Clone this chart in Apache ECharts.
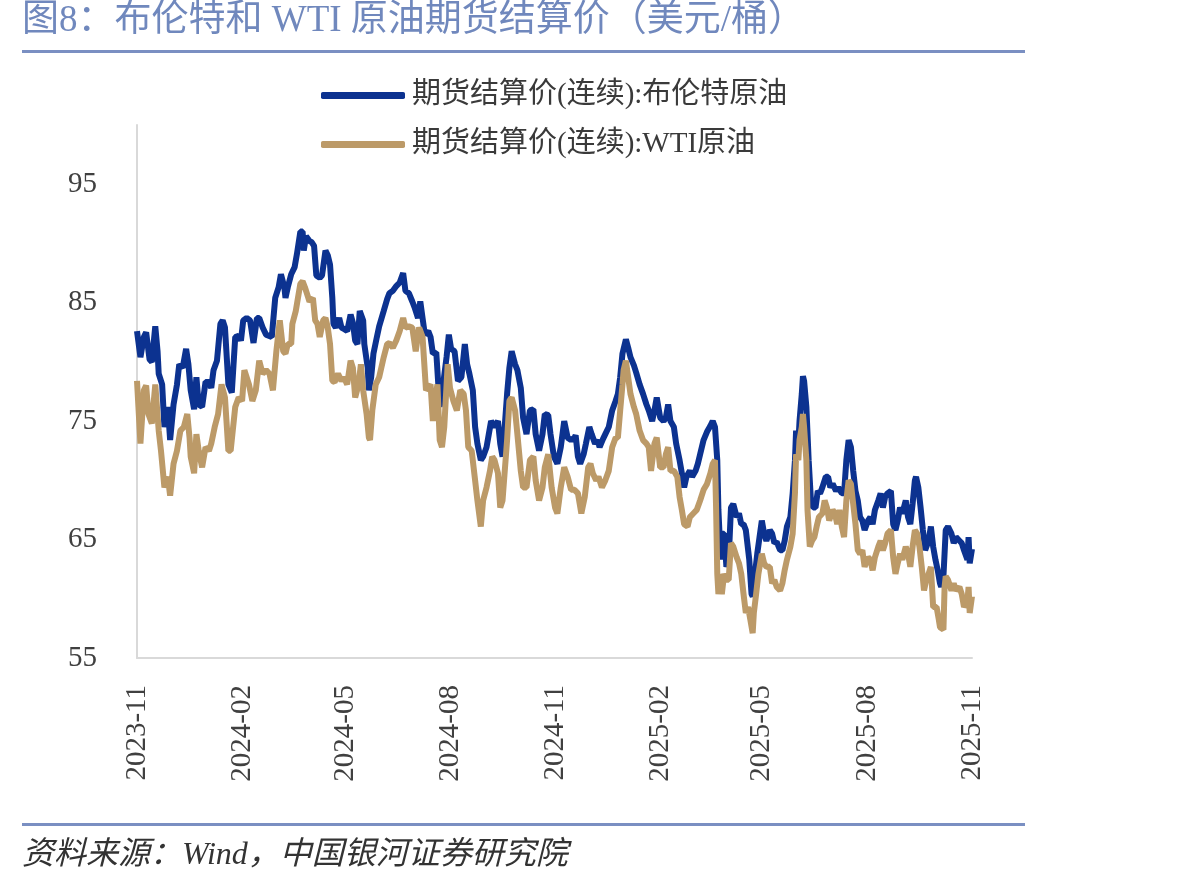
<!DOCTYPE html>
<html><head><meta charset="utf-8">
<script src="https://cdn.jsdelivr.net/npm/echarts@6/dist/echarts.min.js"></script>
<style>html,body{margin:0;padding:0;background:#fff}#c{width:1180px;height:890px}</style>
</head><body><div id="c"></div>
<script>
const titleText = '图8：布伦特和 WTI 原油期货结算价（美元/桶）';
const sourceText = '资料来源：Wind，中国银河证券研究院';
const seriesNames = ['期货结算价(连续):布伦特原油', '期货结算价(连续):WTI原油'];
const xTickDates = ['2023-11-14','2024-02-14','2024-05-14','2024-08-14','2024-11-14','2025-02-14','2025-05-14','2025-08-14','2025-11-14'];
const yTicks = [55, 65, 75, 85, 95];
const yMax = 100;

const brentDates = ['2023-11-14','2023-11-17','2023-11-20','2023-11-22','2023-11-25','2023-11-27','2023-11-30','2023-12-02','2023-12-03','2023-12-06','2023-12-08','2023-12-11','2023-12-13','2023-12-16','2023-12-19','2023-12-21','2023-12-24','2023-12-27','2023-12-29','2023-12-31',
'2024-01-03','2024-01-05','2024-01-07','2024-01-10','2024-01-13','2024-01-16','2024-01-18','2024-01-20','2024-01-23','2024-01-26','2024-01-28','2024-01-30','2024-02-02','2024-02-05','2024-02-08','2024-02-11','2024-02-13','2024-02-15','2024-02-18','2024-02-21','2024-02-24','2024-02-27','2024-02-29',
'2024-03-03','2024-03-06','2024-03-11','2024-03-14','2024-03-17','2024-03-19','2024-03-22','2024-03-23','2024-03-25','2024-03-28','2024-03-31','2024-04-02','2024-04-05','2024-04-07','2024-04-08','2024-04-10','2024-04-13','2024-04-15','2024-04-17','2024-04-19','2024-04-22','2024-04-24','2024-04-27','2024-04-29',
'2024-05-01','2024-05-03','2024-05-04','2024-05-06','2024-05-09','2024-05-11','2024-05-13','2024-05-16','2024-05-19','2024-05-21','2024-05-23','2024-05-25','2024-05-27','2024-05-30','2024-05-31','2024-06-03','2024-06-04','2024-06-06','2024-06-08','2024-06-11','2024-06-13','2024-06-17','2024-06-20','2024-06-22','2024-06-25','2024-06-28',
'2024-07-01','2024-07-04','2024-07-06','2024-07-09','2024-07-12','2024-07-14','2024-07-17','2024-07-19','2024-07-21','2024-07-23','2024-07-26','2024-07-28','2024-07-30','2024-08-02','2024-08-05','2024-08-08','2024-08-11','2024-08-13','2024-08-15','2024-08-18','2024-08-21','2024-08-24','2024-08-27','2024-08-29','2024-08-31',
'2024-09-03','2024-09-05','2024-09-07','2024-09-10','2024-09-12','2024-09-15','2024-09-17','2024-09-19','2024-09-22','2024-09-25','2024-09-27','2024-09-29','2024-10-03','2024-10-05','2024-10-07','2024-10-10','2024-10-12','2024-10-15','2024-10-17','2024-10-20','2024-10-23','2024-10-26','2024-10-28','2024-10-31',
'2024-11-03','2024-11-05','2024-11-08','2024-11-10','2024-11-13','2024-11-16','2024-11-19','2024-11-22','2024-11-25','2024-11-28','2024-12-01','2024-12-02','2024-12-04','2024-12-06','2024-12-09','2024-12-11','2024-12-14','2024-12-16','2024-12-19','2024-12-21','2024-12-23','2024-12-26','2024-12-28','2024-12-31',
'2025-01-03','2025-01-06','2025-01-08','2025-01-10','2025-01-12','2025-01-14','2025-01-15','2025-01-17','2025-01-19','2025-01-22','2025-01-24','2025-01-27','2025-01-30','2025-02-02','2025-02-04','2025-02-07','2025-02-09','2025-02-11','2025-02-14','2025-02-17','2025-02-19','2025-02-21','2025-02-23','2025-02-26','2025-02-28',
'2025-03-03','2025-03-05','2025-03-07','2025-03-09','2025-03-12','2025-03-14','2025-03-17','2025-03-19','2025-03-21','2025-03-24','2025-03-27','2025-03-30','2025-04-01','2025-04-03','2025-04-05','2025-04-06','2025-04-08','2025-04-09','2025-04-11','2025-04-13','2025-04-15','2025-04-17','2025-04-19','2025-04-22','2025-04-24','2025-04-26','2025-04-28','2025-04-30',
'2025-05-03','2025-05-05','2025-05-06','2025-05-08','2025-05-10','2025-05-12','2025-05-14','2025-05-16','2025-05-18','2025-05-21','2025-05-23','2025-05-25','2025-05-27','2025-05-30','2025-06-01','2025-06-03','2025-06-05','2025-06-08','2025-06-10','2025-06-12','2025-06-13','2025-06-15','2025-06-16','2025-06-18','2025-06-19','2025-06-20','2025-06-22','2025-06-24','2025-06-26','2025-06-28','2025-06-30',
'2025-07-02','2025-07-04','2025-07-06','2025-07-09','2025-07-11','2025-07-13','2025-07-15','2025-07-18','2025-07-20','2025-07-23','2025-07-25','2025-07-27','2025-07-29','2025-07-30','2025-07-31','2025-08-02','2025-08-04','2025-08-06','2025-08-08','2025-08-10','2025-08-12','2025-08-15','2025-08-17','2025-08-19','2025-08-21','2025-08-24','2025-08-26','2025-08-28','2025-08-30',
'2025-09-01','2025-09-04','2025-09-06','2025-09-08','2025-09-10','2025-09-12','2025-09-14','2025-09-17','2025-09-19','2025-09-21','2025-09-23','2025-09-25','2025-09-26','2025-09-28','2025-09-30','2025-10-02','2025-10-04','2025-10-07','2025-10-09','2025-10-11','2025-10-13','2025-10-15','2025-10-17','2025-10-18','2025-10-20','2025-10-22','2025-10-24','2025-10-27','2025-10-29','2025-10-31',
'2025-11-03','2025-11-05','2025-11-07','2025-11-10','2025-11-11','2025-11-12','2025-11-14'];
const brentValues = [82.6,80.4,82.1,82.5,80.2,80.0,83.0,80.9,79.0,78.1,74.5,76.2,73.4,76.4,78.1,79.8,79.5,81.1,79.8,77.6,
76.0,78.7,76.4,76.2,78.3,78.3,77.8,79.3,80.1,83.2,83.5,82.9,78.1,77.4,82.1,82.2,81.8,83.5,83.7,83.5,81.6,83.7,83.7,
82.9,82.3,82.1,85.4,86.3,87.4,86.3,85.4,86.3,87.4,88.0,89.1,91.0,91.0,89.4,90.6,90.2,90.1,89.8,87.3,87.1,87.3,89.4,89.0,
88.2,85.4,83.2,82.9,83.7,82.9,82.8,82.6,84.0,83.3,81.8,81.5,84.3,83.5,81.5,79.5,77.6,78.7,80.7,82.1,83.0,84.3,85.3,85.8,86.0,86.4,
86.7,87.5,86.0,85.8,85.1,84.6,83.7,85.1,83.7,82.3,82.6,82.1,80.7,80.8,76.2,78.1,80.4,82.3,81.1,80.9,78.4,78.7,81.5,79.8,79.0,
77.6,74.5,73.1,71.7,72.0,72.8,73.9,75.0,74.5,75.0,73.1,72.0,77.3,79.5,80.9,79.8,79.3,77.8,75.3,73.9,75.9,76.0,73.9,72.5,
73.9,75.6,75.5,73.9,72.0,71.4,72.8,75.0,73.6,73.4,73.6,73.8,72.0,71.4,72.2,73.1,74.5,73.9,73.1,73.4,72.8,73.5,73.9,74.5,
75.9,76.7,77.3,78.7,80.7,81.5,81.9,81.2,80.4,79.7,79.1,78.1,77.3,76.4,75.9,75.0,75.9,77.0,75.3,75.0,75.3,76.4,75.0,74.5,73.1,
71.7,70.6,69.4,70.3,70.8,70.3,70.8,71.4,72.2,73.4,74.1,74.6,75.0,74.5,71.7,67.5,63.3,65.5,65.5,62.7,63.3,67.7,68.0,66.9,67.2,66.3,66.3,65.8,
63.3,60.4,60.2,62.1,63.8,65.2,66.6,65.5,64.9,65.8,65.5,64.7,64.8,64.1,64.1,64.9,66.1,66.9,68.9,71.7,74.2,73.1,75.0,77.3,78.8,78.4,76.2,71.7,68.3,67.7,67.7,
69.1,68.9,69.4,70.3,70.3,69.4,69.7,69.1,69.4,68.9,68.9,71.7,73.4,73.4,72.8,70.8,69.1,68.3,66.9,66.6,65.8,66.6,66.9,66.3,67.5,68.3,68.9,67.7,68.6,
68.9,69.1,66.3,65.8,66.6,67.7,67.2,68.3,66.9,66.3,68.0,70.0,70.3,69.4,67.7,65.8,64.1,64.9,66.1,64.4,63.3,62.4,61.3,61.0,61.9,65.8,66.1,65.5,64.7,65.2,
64.9,64.7,64.1,63.3,65.2,63.0,64.2];

const wtiDates = ['2023-11-14','2023-11-17','2023-11-20','2023-11-22','2023-11-24','2023-11-27','2023-11-30','2023-12-03','2023-12-05','2023-12-08','2023-12-11','2023-12-13','2023-12-16','2023-12-19','2023-12-22','2023-12-25','2023-12-28','2023-12-30','2023-12-31',
'2024-01-03','2024-01-05','2024-01-07','2024-01-10','2024-01-13','2024-01-16','2024-01-18','2024-01-21','2024-01-24','2024-01-27','2024-01-30','2024-02-02','2024-02-04','2024-02-08','2024-02-11','2024-02-14','2024-02-16','2024-02-20','2024-02-23','2024-02-26','2024-02-29',
'2024-03-03','2024-03-06','2024-03-09','2024-03-12','2024-03-15','2024-03-18','2024-03-21','2024-03-23','2024-03-25','2024-03-28','2024-03-29','2024-04-01','2024-04-05','2024-04-07','2024-04-09','2024-04-11','2024-04-13','2024-04-16','2024-04-18','2024-04-20','2024-04-22','2024-04-25','2024-04-27','2024-04-29',
'2024-05-01','2024-05-03','2024-05-05','2024-05-08','2024-05-11','2024-05-13','2024-05-16','2024-05-19','2024-05-21','2024-05-23','2024-05-26','2024-05-28','2024-05-30','2024-06-02','2024-06-04','2024-06-05','2024-06-07','2024-06-10','2024-06-13','2024-06-17','2024-06-20','2024-06-22','2024-06-25','2024-06-28',
'2024-07-01','2024-07-04','2024-07-06','2024-07-09','2024-07-12','2024-07-15','2024-07-18','2024-07-21','2024-07-24','2024-07-28','2024-07-30','2024-07-31','2024-08-03','2024-08-05','2024-08-07','2024-08-09','2024-08-12','2024-08-14','2024-08-17','2024-08-20','2024-08-23','2024-08-26','2024-08-28','2024-08-30',
'2024-09-02','2024-09-05','2024-09-07','2024-09-10','2024-09-12','2024-09-15','2024-09-18','2024-09-20','2024-09-22','2024-09-25','2024-09-27','2024-09-29','2024-10-03','2024-10-05','2024-10-07','2024-10-10','2024-10-12','2024-10-15','2024-10-17','2024-10-20','2024-10-23','2024-10-26','2024-10-28','2024-10-31',
'2024-11-03','2024-11-05','2024-11-08','2024-11-11','2024-11-14','2024-11-16','2024-11-19','2024-11-22','2024-11-25','2024-11-28','2024-12-01','2024-12-04','2024-12-07','2024-12-10','2024-12-13','2024-12-15','2024-12-17','2024-12-20','2024-12-22','2024-12-25','2024-12-28','2024-12-31',
'2025-01-03','2025-01-06','2025-01-08','2025-01-10','2025-01-12','2025-01-13','2025-01-15','2025-01-17','2025-01-19','2025-01-22','2025-01-24','2025-01-27','2025-01-30','2025-02-02','2025-02-04','2025-02-06','2025-02-09','2025-02-11','2025-02-14','2025-02-17','2025-02-19','2025-02-21','2025-02-23','2025-02-26',
'2025-03-01','2025-03-03','2025-03-05','2025-03-07','2025-03-10','2025-03-12','2025-03-15','2025-03-18','2025-03-21','2025-03-24','2025-03-27','2025-03-30','2025-04-01','2025-04-03','2025-04-04','2025-04-05','2025-04-06','2025-04-08','2025-04-09','2025-04-11','2025-04-13','2025-04-15','2025-04-17','2025-04-19','2025-04-22','2025-04-24','2025-04-26','2025-04-28','2025-04-30',
'2025-05-02','2025-05-04','2025-05-06','2025-05-07','2025-05-09','2025-05-11','2025-05-14','2025-05-16','2025-05-18','2025-05-21','2025-05-23','2025-05-25','2025-05-27','2025-05-30','2025-06-01','2025-06-03','2025-06-05','2025-06-08','2025-06-10','2025-06-12','2025-06-13','2025-06-15','2025-06-16','2025-06-18','2025-06-19','2025-06-20','2025-06-22','2025-06-23','2025-06-25','2025-06-27','2025-06-29',
'2025-07-01','2025-07-03','2025-07-06','2025-07-08','2025-07-10','2025-07-12','2025-07-15','2025-07-17','2025-07-19','2025-07-21','2025-07-23','2025-07-25','2025-07-27','2025-07-29','2025-07-30','2025-07-31','2025-08-02','2025-08-04','2025-08-06','2025-08-08','2025-08-10','2025-08-12','2025-08-15','2025-08-17','2025-08-19','2025-08-21','2025-08-24','2025-08-26','2025-08-28','2025-08-30',
'2025-09-01','2025-09-04','2025-09-06','2025-09-08','2025-09-10','2025-09-12','2025-09-14','2025-09-17','2025-09-19','2025-09-21','2025-09-23','2025-09-25','2025-09-27','2025-09-29','2025-10-01','2025-10-03','2025-10-05','2025-10-07','2025-10-09','2025-10-11','2025-10-14','2025-10-16','2025-10-17','2025-10-20','2025-10-21','2025-10-22','2025-10-24','2025-10-27','2025-10-29','2025-10-31',
'2025-11-03','2025-11-05','2025-11-07','2025-11-10','2025-11-11','2025-11-12','2025-11-14'];
const wtiValues = [78.4,73.1,77.6,78.0,75.6,74.8,78.1,74.2,72.5,69.4,70.3,68.7,71.4,72.5,74.2,74.5,75.6,73.6,72.0,
70.6,73.9,72.5,71.1,72.8,72.5,73.1,74.5,75.6,78.1,77.0,72.5,72.5,76.2,77.0,76.7,79.3,78.1,76.7,77.6,80.1,
79.0,79.3,79.0,77.6,80.9,83.5,80.9,80.7,81.5,81.5,83.2,84.3,86.6,86.8,86.3,85.7,85.1,85.4,83.5,83.2,82.1,83.5,83.7,82.9,
81.5,78.4,78.3,79.0,78.4,78.7,78.1,80.1,79.5,77.0,78.1,79.8,77.6,75.6,73.6,73.4,75.9,78.1,78.7,80.4,81.5,81.6,81.2,81.8,
82.6,83.7,82.9,83.0,82.9,80.9,82.9,82.1,77.6,78.1,75.0,76.2,78.1,73.4,72.8,74.5,79.8,77.8,76.7,75.9,77.6,77.3,75.9,72.8,
72.5,70.0,68.3,66.1,68.3,69.4,70.8,72.0,71.7,70.6,67.7,68.3,73.4,76.7,77.0,75.9,73.9,70.8,69.4,69.4,71.7,72.0,70.0,68.3,
69.4,71.1,72.2,69.4,67.7,67.2,69.4,71.1,70.3,69.2,69.2,68.9,67.2,68.6,71.1,71.4,70.6,70.0,70.3,69.4,70.0,70.8,
72.8,73.6,73.6,75.9,78.1,79.3,80.1,78.7,77.3,76.2,75.6,74.2,73.4,73.1,72.8,70.8,73.1,73.6,71.1,71.1,72.2,72.8,70.8,70.8,
70.3,68.6,67.5,66.3,66.1,66.9,67.2,67.5,68.3,69.2,69.7,70.6,71.4,71.7,67.5,62.1,60.4,62.1,60.4,62.1,61.6,61.6,64.7,64.4,63.5,63.0,62.1,60.4,58.8,
59.3,58.2,57.1,58.8,60.4,62.1,63.8,63.0,62.7,62.7,61.3,61.6,61.0,60.7,61.3,62.4,63.3,64.4,65.5,68.9,72.2,71.7,73.4,74.5,75.6,74.5,71.7,67.5,64.4,64.9,65.2,
66.1,66.9,67.2,68.3,67.7,66.6,67.5,67.2,66.3,67.5,66.1,65.2,68.3,70.0,70.0,69.7,68.0,66.3,64.1,63.8,64.1,62.7,63.5,63.3,62.4,63.5,64.4,64.9,64.1,64.7,
65.5,65.8,63.5,62.1,63.0,63.8,63.3,64.4,63.8,62.7,64.4,65.8,65.5,64.4,62.7,60.7,61.6,62.1,62.7,59.3,59.3,58.2,57.6,57.4,61.0,61.9,61.6,60.7,61.3,60.7,
61.0,60.4,59.3,59.8,61.0,58.8,60.2];

function ts(s) { const p = s.split('-'); return new Date(+p[0], +p[1] - 1, +p[2]).getTime(); }
function pairs(dates, vals) { return dates.map((d, i) => [ts(d), vals[i]]); }

const serifCJK = "'Liberation Serif','Noto Sans CJK SC',serif";
const chart = echarts.init(document.getElementById('c'), null, { renderer: 'canvas' });
chart.setOption({
  animation: false,
  backgroundColor: '#ffffff',
  grid: { left: 137, right: 208, top: 125, bottom: 232, containLabel: false },
  legend: {
    orient: 'vertical', left: 316, top: 76, itemGap: 20,
    itemWidth: 84, itemHeight: 7, icon: 'roundRect',
    textStyle: { fontSize: 29, color: '#3a3a3a', fontFamily: serifCJK, padding: [0, 0, 0, 2] },
    data: seriesNames
  },
  xAxis: {
    type: 'value',
    min: ts(xTickDates[0]), max: ts(xTickDates[xTickDates.length - 1]),
    axisLine: { show: true, lineStyle: { color: '#d9d9d9', width: 2 } },
    axisTick: { show: false },
    splitLine: { show: false },
    axisLabel: {
      customValues: xTickDates.map(ts),
      rotate: 90, margin: 27, fontSize: 29, color: '#404040', fontFamily: serifCJK,
      formatter: function (v) { const d = new Date(v); return d.getFullYear() + '-' + String(d.getMonth() + 1).padStart(2, '0'); }
    }
  },
  yAxis: {
    type: 'value', min: yTicks[0], max: yMax, interval: yTicks[1] - yTicks[0],
    axisLine: { show: true, lineStyle: { color: '#d9d9d9', width: 2 } },
    axisTick: { show: false },
    splitLine: { show: false },
    axisLabel: { showMaxLabel: false, margin: 40, fontSize: 29, color: '#404040', fontFamily: serifCJK }
  },
  series: [
    { name: seriesNames[0], type: 'line', showSymbol: false, data: pairs(brentDates, brentValues),
      lineStyle: { width: 6, color: '#0c3290' }, itemStyle: { color: '#0c3290' } },
    { name: seriesNames[1], type: 'line', showSymbol: false, data: pairs(wtiDates, wtiValues),
      lineStyle: { width: 6, color: '#bc9a68' }, itemStyle: { color: '#bc9a68' } }
  ],
  graphic: [
    { type: 'text', left: 22, top: 3, style: { text: titleText, fontSize: 37, fontFamily: serifCJK, fill: '#7088bd' } },
    { type: 'rect', shape: { x: 22, y: 50, width: 1003, height: 3 }, style: { fill: '#7a8fc2' } },
    { type: 'rect', shape: { x: 22, y: 823, width: 1003, height: 3 }, style: { fill: '#7a8fc2' } },
    { type: 'text', left: 22, top: 840, style: { text: sourceText, fontSize: 32, fontStyle: 'italic', fontFamily: serifCJK, fill: '#333333' } }
  ]
});
</script></body></html>
